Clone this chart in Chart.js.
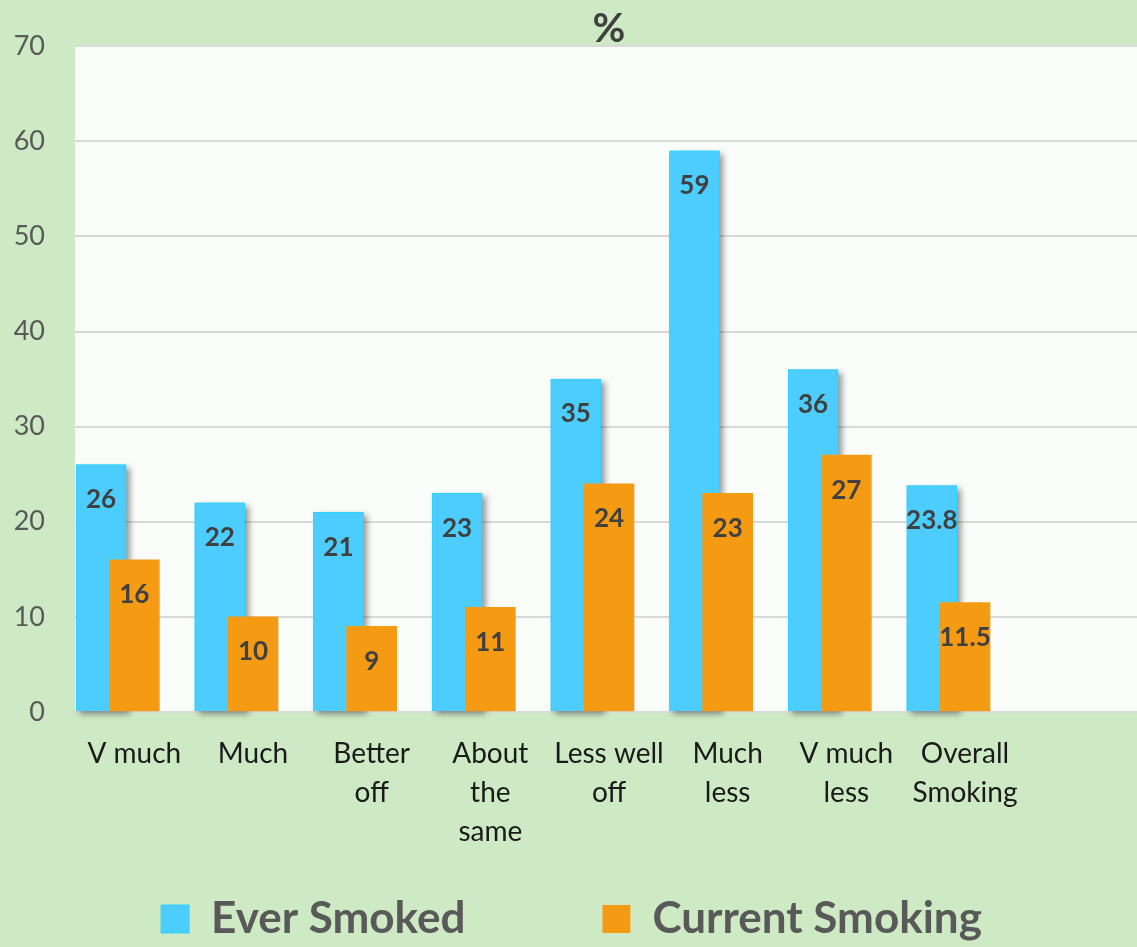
<!DOCTYPE html>
<html>
<head>
<meta charset="utf-8">
<title>Ever smoked / current smoking by financial situation</title>
<script src="https://cdn.jsdelivr.net/npm/chart.js@4.4.1/dist/chart.umd.min.js"></script>
<style>
  html, body { margin: 0; padding: 0; background: #cdeac4; overflow: hidden; }
  .wrap { width: 1143px; height: 951px; }
</style>
</head>
<body>
<div class="wrap"><canvas id="smoking"></canvas></div>
<script>
const CATEGORIES = [
  ["V much"], ["Much"], ["Better", "off"], ["About", "the", "same"],
  ["Less well", "off"], ["Much", "less"], ["V much", "less"], ["Overall", "Smoking"], ""
];
const EVER_SMOKED = [26, 22, 21, 23, 35, 59, 36, 23.8];
const CURRENT_SMOKING = [16, 10, 9, 11, 24, 23, 27, 11.5];
const Y_MIN = 0;
const Y_MAX = 70;
const Y_STEP = 10;

const FONT = "Lato, 'Open Sans', sans-serif";
const GREEN = "#cdeac4";
const PLOT_BG = "#fafcfa";
const BLUE = "#4dcdfe";
const ORANGE = "#f59b13";

// category axis whose multi-line labels may hang below the axis box
class OpenCategoryScale extends Chart.CategoryScale {
  _computeLabelArea() { return undefined; }
}
OpenCategoryScale.id = "openCategory";
Chart.register(OpenCategoryScale);

// green page, near-white plot area
const backgroundPlugin = {
  id: "background",
  beforeDraw(chart) {
    const { ctx, chartArea: a, width, height } = chart;
    ctx.save();
    ctx.fillStyle = GREEN;
    ctx.fillRect(0, 0, width, height);
    ctx.fillStyle = PLOT_BG;
    ctx.fillRect(a.left, a.top, a.right - a.left, a.bottom - a.top);
    ctx.restore();
  }
};

// "Ever Smoked" bars sit left of centre, half behind the orange ones
const shiftPlugin = {
  id: "shiftBars",
  afterDatasetUpdate(chart, args, opts) {
    if (args.index !== 0) return;
    const x = chart.scales.x;
    const step = x.getPixelForValue(1) - x.getPixelForValue(0);
    args.meta.data.forEach((bar) => { bar.x -= opts.shift * step; });
  }
};

// soft drop shadow behind the blue bars
const shadowPlugin = {
  id: "barShadow",
  beforeDatasetDraw(chart, args, opts) {
    if (args.index !== 0) return;
    const ctx = chart.ctx;
    ctx.save();
    ctx.shadowColor = opts.color;
    ctx.shadowBlur = opts.blur;
    ctx.shadowOffsetX = opts.offsetX;
    ctx.shadowOffsetY = opts.offsetY;
    ctx.fillStyle = BLUE;
    args.meta.data.forEach((bar) => {
      const { x, y, base, width } = bar.getProps(["x", "y", "base", "width"], true);
      ctx.fillRect(x - width / 2, y, width, base - y);
    });
    ctx.restore();
  }
};

// value printed inside the top of every bar
const valueLabelPlugin = {
  id: "valueLabels",
  afterDatasetsDraw(chart, args, opts) {
    const ctx = chart.ctx;
    ctx.save();
    ctx.font = `bold ${opts.size}px ${FONT}`;
    ctx.fillStyle = opts.color;
    ctx.textAlign = "center";
    ctx.textBaseline = "middle";
    chart.data.datasets.forEach((ds, i) => {
      chart.getDatasetMeta(i).data.forEach((bar, j) => {
        ctx.fillText(String(ds.data[j]), bar.x, bar.y + opts.inset);
      });
    });
    ctx.restore();
  }
};

new Chart(document.getElementById("smoking"), {
  type: "bar",
  data: {
    labels: CATEGORIES,
    datasets: [
      {
        label: "Ever Smoked",
        data: EVER_SMOKED,
        backgroundColor: BLUE,
        borderColor: "#2ad3ff",
        borderWidth: 1,
        order: 1,
      },
      {
        label: "Current Smoking",
        data: CURRENT_SMOKING,
        backgroundColor: ORANGE,
        borderWidth: 0,
        order: 0,
      },
    ],
  },
  options: {
    responsive: true,
    maintainAspectRatio: false,
    animation: false,
    layout: { padding: 0 },
    datasets: {
      bar: { grouped: false, barThickness: 50 },
    },
    plugins: {
      title: { display: false },
      tooltip: { enabled: false },
      legend: {
        position: "bottom",
        labels: {
          sort: (a, b) => a.datasetIndex - b.datasetIndex,
          boxWidth: 28,
          boxHeight: 28,
          padding: 137,
          color: "#595959",
          font: { family: FONT, size: 44, weight: "bold" },
        },
      },
      shiftBars: { shift: 0.28 },
      barShadow: { color: "rgba(0,0,0,0.4)", blur: 6, offsetX: 4, offsetY: 3 },
      valueLabels: { size: 26, color: "#404040", inset: 35 },
    },
    scales: {
      x: {
        type: "openCategory",
        offset: true,
        grid: { display: false, drawTicks: false, tickLength: 0 },
        border: { color: "#d9d9d9", width: 2 },
        ticks: {
          color: "#1a1a1a",
          font: { family: FONT, size: 28, lineHeight: 1.39 },
          padding: 23,
          autoSkip: false,
          maxRotation: 0,
          minRotation: 0,
        },
        afterFit(scale) { scale.height = 48; },
      },
      top: {
        type: "category",
        position: "top",
        grid: { display: false, drawTicks: false, tickLength: 0 },
        border: { display: false },
        ticks: { display: false },
        title: {
          display: true,
          text: "%",
          color: "#404040",
          font: { family: FONT, size: 40, weight: "bold", lineHeight: 1 },
          padding: { top: 8, bottom: 0 },
        },
        afterFit(scale) { scale.height = 45; },
      },
      y: {
        min: Y_MIN,
        max: Y_MAX,
        ticks: {
          stepSize: Y_STEP,
          color: "#595959",
          font: { family: FONT, size: 27 },
          padding: 30,
        },
        grid: { color: "#d9d9d9", lineWidth: 2, drawTicks: false, tickLength: 0 },
        border: { display: false },
        afterFit(scale) { scale.width = 75; },
      },
    },
  },
  plugins: [backgroundPlugin, shiftPlugin, shadowPlugin, valueLabelPlugin],
});
</script>
</body>
</html>
